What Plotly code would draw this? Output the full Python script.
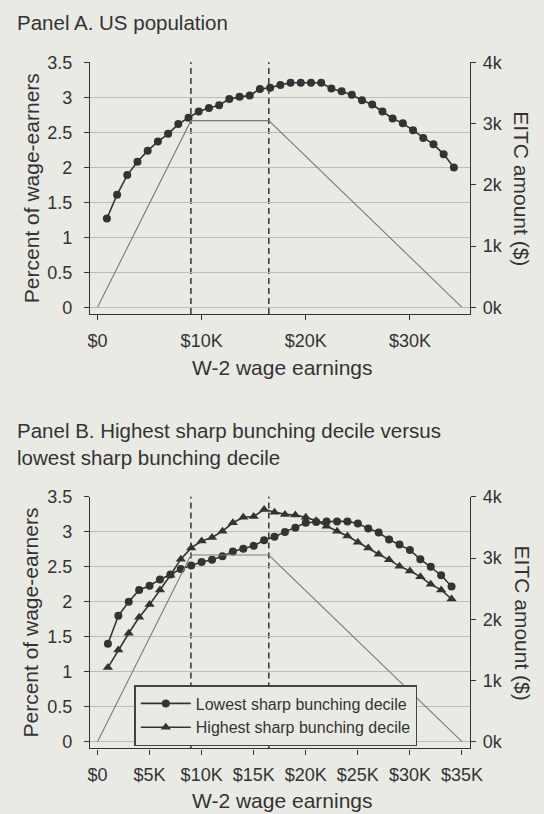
import plotly.graph_objects as go

# ---------------- data ----------------
# Panel A: US population (earnings bins, $)
earn_a = [900, 1880, 2860, 3840, 4820, 5800, 6780, 7760, 8740, 9720,
          10700, 11680, 12660, 13640, 14620, 15600, 16580, 17560, 18540, 19520,
          20500, 21480, 22460, 23440, 24420, 25400, 26380, 27360, 28340, 29320,
          30300, 31280, 32260, 33240, 34220]
pct_a = [1.27, 1.61, 1.89, 2.08, 2.24, 2.37, 2.48, 2.62, 2.71, 2.80,
         2.85, 2.89, 2.98, 3.01, 3.03, 3.12, 3.14, 3.18, 3.21, 3.21,
         3.21, 3.21, 3.13, 3.09, 3.04, 2.96, 2.90, 2.80, 2.70, 2.63,
         2.53, 2.42, 2.33, 2.19, 2.00]

# Panel B: lowest vs highest sharp bunching decile
earn_b = [1000, 2000, 3000, 4000, 5000, 6000, 7000, 8000, 9000, 10000,
          11000, 12000, 13000, 14000, 15000, 16000, 17000, 18000, 19000, 20000,
          21000, 22000, 23000, 24000, 25000, 26000, 27000, 28000, 29000, 30000,
          31000, 32000, 33000, 34000]
pct_lowest = [1.40, 1.80, 2.00, 2.17, 2.23, 2.32, 2.39, 2.47, 2.52, 2.57,
              2.60, 2.65, 2.72, 2.76, 2.80, 2.88, 2.93, 3.00, 3.06, 3.13,
              3.14, 3.15, 3.15, 3.15, 3.12, 3.05, 2.99, 2.89, 2.82, 2.74,
              2.61, 2.50, 2.38, 2.22]
pct_highest = [1.06, 1.31, 1.55, 1.78, 1.96, 2.17, 2.38, 2.61, 2.77, 2.87,
               2.92, 3.01, 3.13, 3.21, 3.22, 3.32, 3.28, 3.25, 3.24, 3.21,
               3.16, 3.08, 3.01, 2.94, 2.85, 2.77, 2.68, 2.60, 2.51, 2.44,
               2.36, 2.25, 2.17, 2.04]

# EITC schedule (one child)
eitc_earn = [0, 8970, 16450, 35000]
eitc_amt = [0, 3050, 3050, 0]
kinks = [8970, 16450]

y_ticks = [0, 0.5, 1, 1.5, 2, 2.5, 3, 3.5]
y_ticktext = ["0", "0.5", "1", "1.5", "2", "2.5", "3", "3.5"]
eitc_ticks = [0, 1000, 2000, 3000, 4000]
eitc_ticktext = ["0k", "1k", "2k", "3k", "4k"]
xa_ticks = [0, 10000, 20000, 30000]
xa_ticktext = ["$0", "$10K", "$20K", "$30K"]
xb_ticks = [0, 5000, 10000, 15000, 20000, 25000, 30000, 35000]
xb_ticktext = ["$0", "$5K", "$10K", "$15K", "$20K", "$25K", "$30K", "$35K"]

series_names = ["Lowest sharp bunching decile", "Highest sharp bunching decile"]

# ---------------- style ----------------
W, H = 544, 814
BG = "#eaeae5"
INK = "#333333"
GRID = "#bcbcbc"
FONT = "Liberation Sans, Arial, Helvetica, sans-serif"

def py(px):  # pixel from top -> paper fraction
    return 1 - px / H

def pxx(px):
    return px / W

x_dom = [pxx(90), pxx(470)]
ya_dom = [py(314), py(62.3)]
yb_dom = [py(748.4), py(496.7)]
x_range = [-720, 35770]
y_range = [-0.096, 3.503]
e_range = [y_range[0] * 4000 / 3.5, y_range[1] * 4000 / 3.5]

fig = go.Figure()

line_style = dict(color=INK, width=1.6)

# Panel A
fig.add_trace(go.Scatter(x=eitc_earn, y=eitc_amt, mode="lines", xaxis="x", yaxis="y2",
                         line=dict(color="#7a7a7a", width=1.1), showlegend=False, hoverinfo="skip"))
fig.add_trace(go.Scatter(x=earn_a, y=pct_a, mode="lines+markers", xaxis="x", yaxis="y",
                         line=line_style, marker=dict(symbol="circle", size=8, color=INK),
                         showlegend=False))

# Panel B
fig.add_trace(go.Scatter(x=eitc_earn, y=eitc_amt, mode="lines", xaxis="x2", yaxis="y4",
                         line=dict(color="#7a7a7a", width=1.1), showlegend=False, hoverinfo="skip"))
fig.add_trace(go.Scatter(x=earn_b, y=pct_lowest, mode="lines+markers", xaxis="x2", yaxis="y3",
                         name=series_names[0], line=line_style,
                         marker=dict(symbol="circle", size=8, color=INK)))
fig.add_trace(go.Scatter(x=earn_b, y=pct_highest, mode="lines+markers", xaxis="x2", yaxis="y3",
                         name=series_names[1], line=line_style,
                         marker=dict(symbol="triangle-up", size=9, color=INK)))

# dashed kink lines
for xr, yr in (("x", "y domain"), ("x2", "y3 domain")):
    for k in kinks:
        fig.add_shape(type="line", xref=xr, yref=yr, x0=k, x1=k, y0=0, y1=1,
                      line=dict(color=INK, width=1.5, dash="6px,4px"), layer="below")

tickfont = dict(family=FONT, size=18, color=INK)

def xaxis(anchor, tv, tt):
    return dict(domain=x_dom, anchor=anchor, range=x_range, tickvals=tv, ticktext=tt,
                showgrid=False, zeroline=False, showline=True, linecolor=INK, linewidth=1.3,
                ticks="outside", ticklen=5, tickwidth=1.2, tickcolor=INK,
                tickfont=tickfont, ticklabelstandoff=5, fixedrange=True)

def yleft(anchor, dom):
    return dict(domain=dom, anchor=anchor, range=y_range, tickvals=y_ticks, ticktext=y_ticktext,
                showgrid=True, gridcolor=GRID, gridwidth=1, zeroline=False,
                showline=True, linecolor=INK, linewidth=1.3,
                ticks="outside", ticklen=5, tickwidth=1.2, tickcolor=INK,
                tickfont=tickfont, ticklabelstandoff=8, fixedrange=True)

def yright(anchor, over):
    return dict(overlaying=over, anchor=anchor, side="right", range=e_range,
                tickvals=eitc_ticks, ticktext=eitc_ticktext,
                showgrid=False, zeroline=False, showline=True, linecolor=INK, linewidth=1.3,
                ticks="outside", ticklen=5, tickwidth=1.2, tickcolor=INK,
                tickfont=tickfont, ticklabelstandoff=3, fixedrange=True)

fig.update_layout(
    width=W, height=H,
    margin=dict(l=0, r=0, t=0, b=0, autoexpand=False),
    paper_bgcolor=BG, plot_bgcolor=BG,
    font=dict(family=FONT, color=INK),
    xaxis=xaxis("y", xa_ticks, xa_ticktext),
    yaxis=yleft("x", ya_dom),
    yaxis2=yright("x", "y"),
    xaxis2=xaxis("y3", xb_ticks, xb_ticktext),
    yaxis3=yleft("x2", yb_dom),
    yaxis4=yright("x2", "y3"),
    legend=dict(x=pxx(134.3), y=py(685), xanchor="left", yanchor="top",
                bgcolor=BG, bordercolor="#444444", borderwidth=1.5,
                font=dict(family=FONT, size=16, color=INK),
                itemwidth=50, tracegroupgap=0, traceorder="normal"),
    showlegend=True,
)

ann = []
def txt(x, y, text, size, angle=0, xanchor="center", yanchor="middle"):
    ann.append(dict(x=pxx(x), y=py(y), xref="paper", yref="paper", text=text, showarrow=False,
                    textangle=angle, xanchor=xanchor, yanchor=yanchor,
                    font=dict(family=FONT, size=size, color=INK)))

# Panel titles
txt(15, 23, "Panel A. US population", 20.5, xanchor="left")
txt(15, 430, "Panel B. Highest sharp bunching decile versus", 20.5, xanchor="left")
txt(15, 457, "lowest sharp bunching decile", 20.5, xanchor="left")
# axis titles
for top, bot, xt in ((62.3, 314, 368), (496.7, 748.4, 800)):
    mid = (top + bot) / 2
    txt(31, mid, "Percent of wage-earners", 21, angle=-90)
    txt(522, mid, "EITC amount ($)", 21, angle=90)
    txt(282, xt, "W-2 wage earnings", 21)

fig.update_layout(annotations=ann)

fig.write_html("out.html", config={"displayModeBar": False},
               post_script="document.body.style.margin='0';document.body.style.overflow='hidden';")
